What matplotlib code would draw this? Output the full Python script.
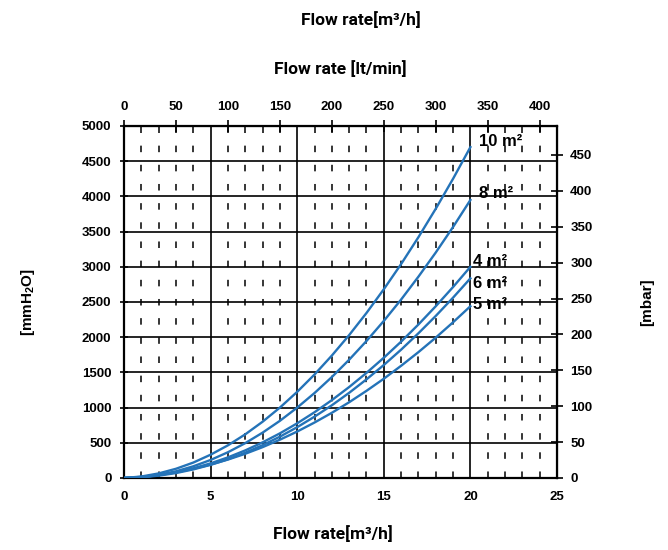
import matplotlib.pyplot as plt
from matplotlib.ticker import MultipleLocator

# flow rate [m3/h] on the bottom axis
flow = [0, 1, 2, 3, 4, 5, 6, 7, 8, 9, 10, 11, 12, 13, 14, 15, 16, 17, 18, 19, 20]

# pressure drop [mmH2O] for each filter area
dp_10m2 = [0, 21, 65, 131, 219, 331, 464, 620, 799, 1000, 1224,
           1470, 1739, 2030, 2344, 2681, 3039, 3421, 3825, 4251, 4700]
dp_8m2 = [0, 12, 44, 95, 166, 256, 366, 495, 644, 812, 1000,
          1207, 1434, 1680, 1946, 2231, 2535, 2860, 3203, 3566, 3949]
dp_4m2 = [0, 13, 40, 81, 137, 208, 293, 392, 506, 634, 777,
          934, 1106, 1292, 1493, 1708, 1937, 2181, 2440, 2713, 3000]
dp_6m2 = [0, 10, 33, 70, 122, 187, 266, 359, 466, 587, 722,
          871, 1033, 1210, 1401, 1605, 1823, 2056, 2302, 2562, 2836]
dp_5m2 = [0, 16, 42, 80, 130, 190, 262, 344, 438, 544, 660,
          788, 926, 1076, 1238, 1410, 1594, 1788, 1994, 2212, 2440]

curve_labels = ["10 m²", "8 m²", "4 m²", "6 m²", "5 m²"]

x_ticks = [0, 5, 10, 15, 20, 25]
y_ticks = [0, 500, 1000, 1500, 2000, 2500, 3000, 3500, 4000, 4500, 5000]
lpm_ticks = [0, 50, 100, 150, 200, 250, 300, 350, 400]
mbar_ticks = [0, 50, 100, 150, 200, 250, 300, 350, 400, 450]

# where the area labels sit relative to the end of each curve (points)
label_offsets = [(6, 4), (6, 5), (2, 4), (2, -4), (2, 1)]

plt.rcParams["font.family"] = ["Liberation Sans", "DejaVu Sans"]
plt.rcParams["font.weight"] = "bold"
plt.rcParams["axes.labelweight"] = "bold"
plt.rcParams["mathtext.fontset"] = "custom"
plt.rcParams["mathtext.default"] = "bf"
plt.rcParams["mathtext.bf"] = "Liberation Sans:bold"
plt.rcParams["lines.scale_dashes"] = False

title_font = ["Roboto", "DejaVu Sans"]

blue = "#2473b8"

fig = plt.figure(figsize=(6.68, 5.5), dpi=100)
ax = fig.add_axes([124 / 668, 72 / 550, 433 / 668, 352 / 550])

series = [dp_10m2, dp_8m2, dp_4m2, dp_6m2, dp_5m2]
for dp, name, off in zip(series, curve_labels, label_offsets):
    ax.plot(flow, dp, color=blue, lw=1.7, zorder=3)
    ax.annotate(name, (flow[-1], dp[-1]), xytext=off, textcoords="offset points",
                ha="left", va="center", fontsize=12, fontweight="bold")

ax.set_xlim(0, 25)
ax.set_ylim(0, 5000)
ax.set_xticks(x_ticks)
ax.set_yticks(y_ticks)

# grid: solid major lines, short dashes at every unit of flow
ax.xaxis.set_minor_locator(MultipleLocator(1))
ax.grid(which="major", color="black", lw=1.2)
ax.grid(which="minor", axis="x", color="black", lw=1.1, linestyle=(0, (4.7, 9.1)))
ax.tick_params(which="minor", length=0)
ax.tick_params(axis="x", which="major", length=0, pad=9, labelsize=9.5)
ax.tick_params(axis="y", which="major", direction="inout", length=6, width=1.2,
               pad=6, labelsize=9.5)
for s in ax.spines.values():
    s.set_linewidth(1.6)

ax.set_xlabel("Flow rate[m³/h]", fontsize=12.5, family=title_font, fontweight="bold")
ax.xaxis.set_label_coords(0.483, -0.135)
ax.set_ylabel("[mmH$_2$O]", fontsize=11, fontweight="bold", labelpad=32)

# top axis in lt/min, right axis in mbar
top = ax.secondary_xaxis("top", functions=(lambda q: q * 1000 / 60, lambda q: q * 60 / 1000))
top.set_xticks(lpm_ticks)
top.tick_params(direction="inout", length=8, width=1.2, pad=5, labelsize=9.5)
top.set_xlabel("Flow rate [lt/min]", fontsize=12.5, family=title_font,
               fontweight="bold", labelpad=20)

right = ax.secondary_yaxis("right", functions=(lambda p: p / 10.197, lambda p: p * 10.197))
right.set_yticks(mbar_ticks)
right.tick_params(direction="inout", length=9, width=1.2, pad=5, labelsize=9.5)
right.set_ylabel("[mbar]", fontsize=11, fontweight="bold", labelpad=34)

fig.text(361 / 668, 1 - 20 / 550, "Flow rate[m³/h]", fontsize=12.5, family=title_font,
         fontweight="bold", ha="center", va="center")

fig.savefig("out.png", dpi=100)
